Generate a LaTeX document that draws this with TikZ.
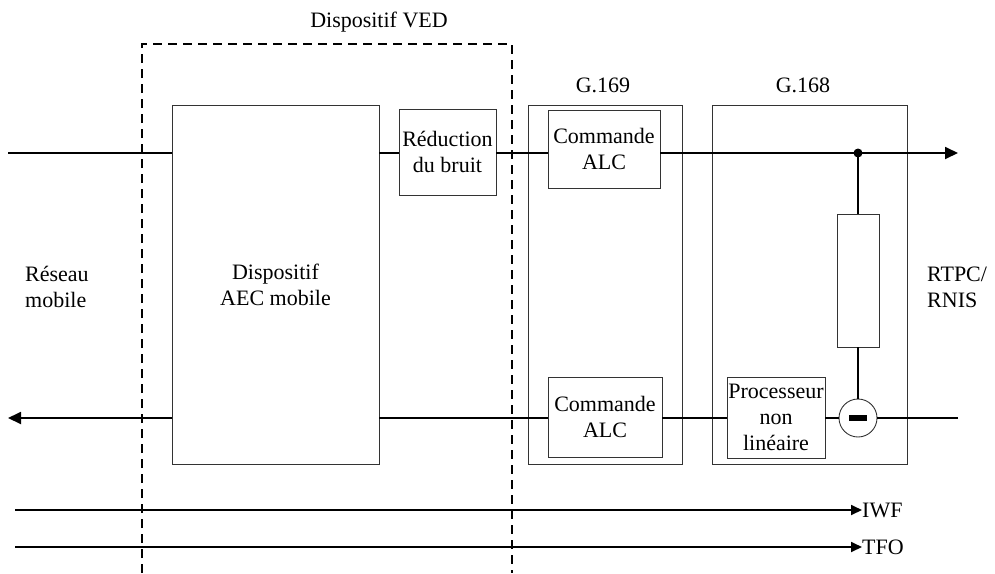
\documentclass[tikz,border=0pt]{standalone}
\usepackage{fontspec}
\setmainfont{Liberation Serif}
\usetikzlibrary{arrows.meta}
\begin{document}
\begin{tikzpicture}[x=1pt,y=-1pt,
  txt/.style={font=\fontsize{22}{26}\selectfont},
  box/.style={draw=black!80,line width=0.9pt,rectangle,inner sep=0pt,align=center,txt},
  sig/.style={line width=1.8pt},
  bigarrow/.style={sig,-{Triangle[length=13pt,width=12pt]}},
  smallarrow/.style={sig,-{Triangle[length=11pt,width=10pt]}},
  lbl/.style={txt,inner sep=0pt},
  ved/.style={line width=1.6pt,dash pattern=on 9pt off 6pt}]
\useasboundingbox (0,0) rectangle (995,573);
% boxes
\node[box,minimum width=207pt,minimum height=359pt] (aec) at (275.5,284.5) {Dispositif\\AEC mobile};
\node[box,minimum width=97pt,minimum height=86pt] (nr) at (447.5,152) {Réduction\\du bruit};
\node[box,minimum width=154pt,minimum height=359pt] (g169) at (605,284.5) {};
\node[box,minimum width=112pt,minimum height=78pt] (alc1) at (604,149) {Commande\\ALC};
\node[box,minimum width=114pt,minimum height=80pt] (alc2) at (605,417) {Commande\\ALC};
\node[box,minimum width=195pt,minimum height=359pt] (g168) at (809.5,284.5) {};
\node[box,minimum width=42pt,minimum height=133pt] (res) at (858,280.5) {};
\node[box,minimum width=98pt,minimum height=81pt] (nlp) at (776,417.5) {Processeur\\non\\linéaire};
\node[draw=black!80,line width=0.9pt,circle,minimum size=38pt,inner sep=0pt] (sub) at (858,418) {};
\fill (sub.center) +(-9,-3) rectangle +(9,3);
% labels
\node[lbl] (l169) at (603,85) {G.169};
\node[lbl] (l168) at (803,85) {G.168};
\node[lbl] (lved) at (379,22) {Dispositif VED};
\node[lbl,align=left,anchor=west] (lmob) at (25,287) {Réseau\\mobile};
\node[lbl,align=left,anchor=west] (lrtpc) at (927,287) {RTPC/\\RNIS};
% dashed VED frame
\coordinate (v1) at (142,573);
\coordinate (v2) at (142,44);
\coordinate (v3) at (512,44);
\coordinate (v4) at (512,573);
\draw[ved] (v1) -- (v2) -- (v3) -- (v4);
% top signal path
\coordinate (tin) at (8,153);
\coordinate (tout) at (958,153);
\coordinate (dot) at (858,153);
\draw[sig] (tin) -- (aec.west |- tin);
\draw[sig] (aec.east |- tin) -- (nr.west |- tin);
\draw[sig] (nr.east |- tin) -- (alc1.west |- tin);
\draw[bigarrow] (alc1.east |- tin) -- (tout);
\fill (dot) circle (4.5pt);
\draw[sig] (dot) -- (res.north);
\draw[sig] (res.south) -- (sub.north);
% bottom signal path
\coordinate (bin) at (958,418);
\coordinate (bout) at (8,418);
\draw[sig] (bin) -- (sub.east);
\draw[sig] (sub.west) -- (nlp.east |- sub.west);
\draw[sig] (nlp.west |- bin) -- (alc2.east |- bin);
\draw[sig] (alc2.west |- bin) -- (aec.east |- bin);
\draw[bigarrow] (aec.west |- bin) -- (bout);
% IWF / TFO
\coordinate (i1) at (15,510);
\coordinate (t1) at (15,547);
\node[lbl,anchor=west] (iwf) at (862,510) {IWF};
\node[lbl,anchor=west] (tfo) at (862,547) {TFO};
\draw[smallarrow] (i1) -- (iwf.west);
\draw[smallarrow] (t1) -- (tfo.west);
\end{tikzpicture}
\end{document}
